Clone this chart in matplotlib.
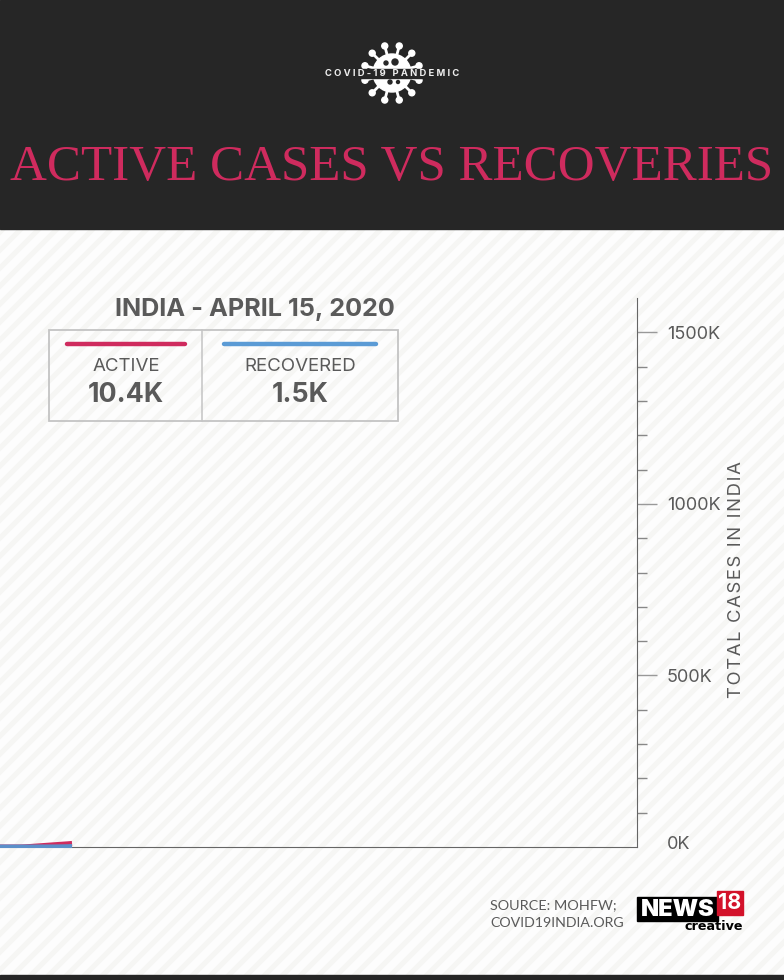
import numpy as np
import matplotlib
matplotlib.use("Agg")
import matplotlib.pyplot as plt
from matplotlib.patches import Rectangle, Circle
from matplotlib.transforms import ScaledTranslation

# days since Jan 30 2020 (cases)
days = [0, 10, 20, 26, 32, 42, 52, 62, 72, 76]
active = [0, 0, 100, 600, 1500, 3500, 5500, 7500, 9400, 10400]
recovered = [0, 0, 0, 0, 10, 30, 100, 300, 800, 1500]
y_major = [0, 500000, 1000000, 1500000]
y_labels = ["0K", "500K", "1000K", "1500K"]
y_minor = [v * 100000 for v in range(1, 16) if v % 5 != 0]

DARK = "#262626"
RED = "#cf2b5e"
BLUE = "#5b8fc9"
GREY = "#5a5a5a"
SANS = "Inter"

W, H = 784, 980
fig = plt.figure(figsize=(W / 100, H / 100), dpi=100, facecolor="#fdfdfd")

# page layer in pixel coordinates
bg = fig.add_axes([0, 0, 1, 1])
bg.set_xlim(0, W)
bg.set_ylim(H, 0)
bg.axis("off")

# diagonal stripes
for x0 in range(-20, W + H, 18):
    bg.plot([x0, x0 - H], [0, H], color="#f6f6f4", lw=3.6, zorder=0)

bg.add_patch(Rectangle((0, 0), W, 229, color=DARK, zorder=1))
bg.add_patch(Rectangle((0, 975), W, 5, color=DARK, zorder=1))

bg.text(392, 168, "ACTIVE CASES VS RECOVERIES", color=RED, family="Liberation Serif",
        fontsize=36.7, ha="center", va="center", zorder=2)

# virus logo
cx, cy = 392, 73
for a in np.arange(0, 360, 30) + 15:
    r = np.radians(a)
    ex, ey = cx + 28 * np.cos(r), cy + 28 * np.sin(r)
    bg.plot([cx, ex], [cy, ey], color="white", lw=2, zorder=2)
    bg.add_patch(Circle((ex, ey), 3, color="white", zorder=2))
bg.add_patch(Circle((cx, cy), 19, color="white", zorder=2))
for hx, hy, hr in [(-6, -10, 2), (3, -11, 3), (-2, 9, 2), (6, 9, 1.5)]:
    bg.add_patch(Circle((cx + hx, cy + hy), hr, color=DARK, zorder=3))
bg.add_patch(Rectangle((318, 69), 148, 9, color=DARK, zorder=3))
bg.text(392, 73.5, "C O V I D - 1 9   P A N D E M I C", color="#eeeeee", family=SANS,
        fontsize=6.8, fontweight="bold", ha="center", va="center", zorder=4)

# legend box
bg.add_patch(Rectangle((49.5, 330), 348.5, 90.5, facecolor="none", edgecolor="#c4c4c4", lw=1.3, zorder=2))
bg.plot([202.5, 202.5], [330, 420.5], color="#c4c4c4", lw=1.1, zorder=2)
bg.plot([67, 185], [344.5, 344.5], color=RED, lw=3.2, solid_capstyle="round", zorder=2)
bg.plot([224, 376], [344.5, 344.5], color="#5b9bd5", lw=3.2, solid_capstyle="round", zorder=2)
bg.text(254.5, 309, "INDIA - APRIL 15, 2020", color=GREY, family=SANS, fontsize=18.2,
        fontweight="bold", ha="center", va="center", zorder=2)
bg.text(126, 366, "ACTIVE", color=GREY, family=SANS, fontsize=13.5, ha="center", va="center", zorder=2)
bg.text(300, 366, "RECOVERED", color=GREY, family=SANS, fontsize=13.5, ha="center", va="center", zorder=2)
bg.text(126, 395, "10.4K", color=GREY, family=SANS, fontsize=19.3, fontweight="bold", ha="center", va="center", zorder=2)
bg.text(300, 395, "1.5K", color=GREY, family=SANS, fontsize=19.3, fontweight="bold", ha="center", va="center", zorder=2)

# source + logo
bg.text(490, 905, "SOURCE: MOHFW;", color=GREY, family="Lato", fontsize=10.4, ha="left", va="center", zorder=2)
bg.text(490, 923, "COVID19INDIA.ORG", color=GREY, family="Lato", fontsize=10.2, ha="left", va="center", zorder=2)
bg.add_patch(Rectangle((637, 897), 81, 24, color="black", zorder=2))
bg.add_patch(Rectangle((717, 891), 26, 24, color="#d3122a", zorder=3))
bg.text(678, 909.5, "NEWS", color="white", family=SANS, fontsize=17, fontweight="black", ha="center", va="center", zorder=4)
bg.text(730, 903, "18", color="white", family=SANS, fontsize=15.5, fontweight="bold", ha="center", va="center", zorder=4)
bg.text(743, 926, "creative", color="black", family="DejaVu Sans", fontsize=9.2, fontweight="bold", ha="right", va="center", zorder=4)

# chart
ax = fig.add_axes([0, (H - 847) / H, 637 / W, (847 - 298) / H])
ax.patch.set_alpha(0)
l1, = ax.plot(days, active, color=RED, lw=3.6, solid_capstyle="butt", zorder=3)
l2, = ax.plot(days, recovered, color=BLUE, lw=3.6, solid_capstyle="butt", zorder=4)
# lines sit a pixel past the baseline
for ln in (l1, l2):
    ln.set_clip_path(Rectangle((0, 830), 637, 18, transform=bg.transData))
ax.set_xlim(0, 672)
ax.set_ylim(0, 1600000)
ax.set_xticks([])
for s in ["left", "top"]:
    ax.spines[s].set_visible(False)
ax.spines["right"].set_color("#666666")
ax.spines["bottom"].set_color("#666666")
ax.yaxis.tick_right()
ax.set_yticks(y_major)
ax.set_yticklabels(y_labels)
ax.set_yticks(y_minor, minor=True)
ax.tick_params(axis="y", which="major", length=14.4, width=1, color="#999999",
               pad=7, labelsize=13, labelcolor=GREY)
ax.tick_params(axis="y", which="minor", length=7.2, width=1, color="#888888")
for lab in ax.get_yticklabels():
    lab.set_family(SANS)
# 0K has no tick mark and its label sits above the baseline
zero = ax.yaxis.get_major_ticks()[0]
zero.tick2line.set_visible(False)
zero.label2.set_transform(zero.label2.get_transform() + ScaledTranslation(0, 0.05, fig.dpi_scale_trans))

bg.text(737, 580, "\u200a".join("TOTAL CASES IN INDIA"), color=GREY, family=SANS, fontsize=13.3,
        rotation=90, ha="center", va="center", zorder=5)

fig.savefig("out.png", dpi=100, facecolor=fig.get_facecolor())
